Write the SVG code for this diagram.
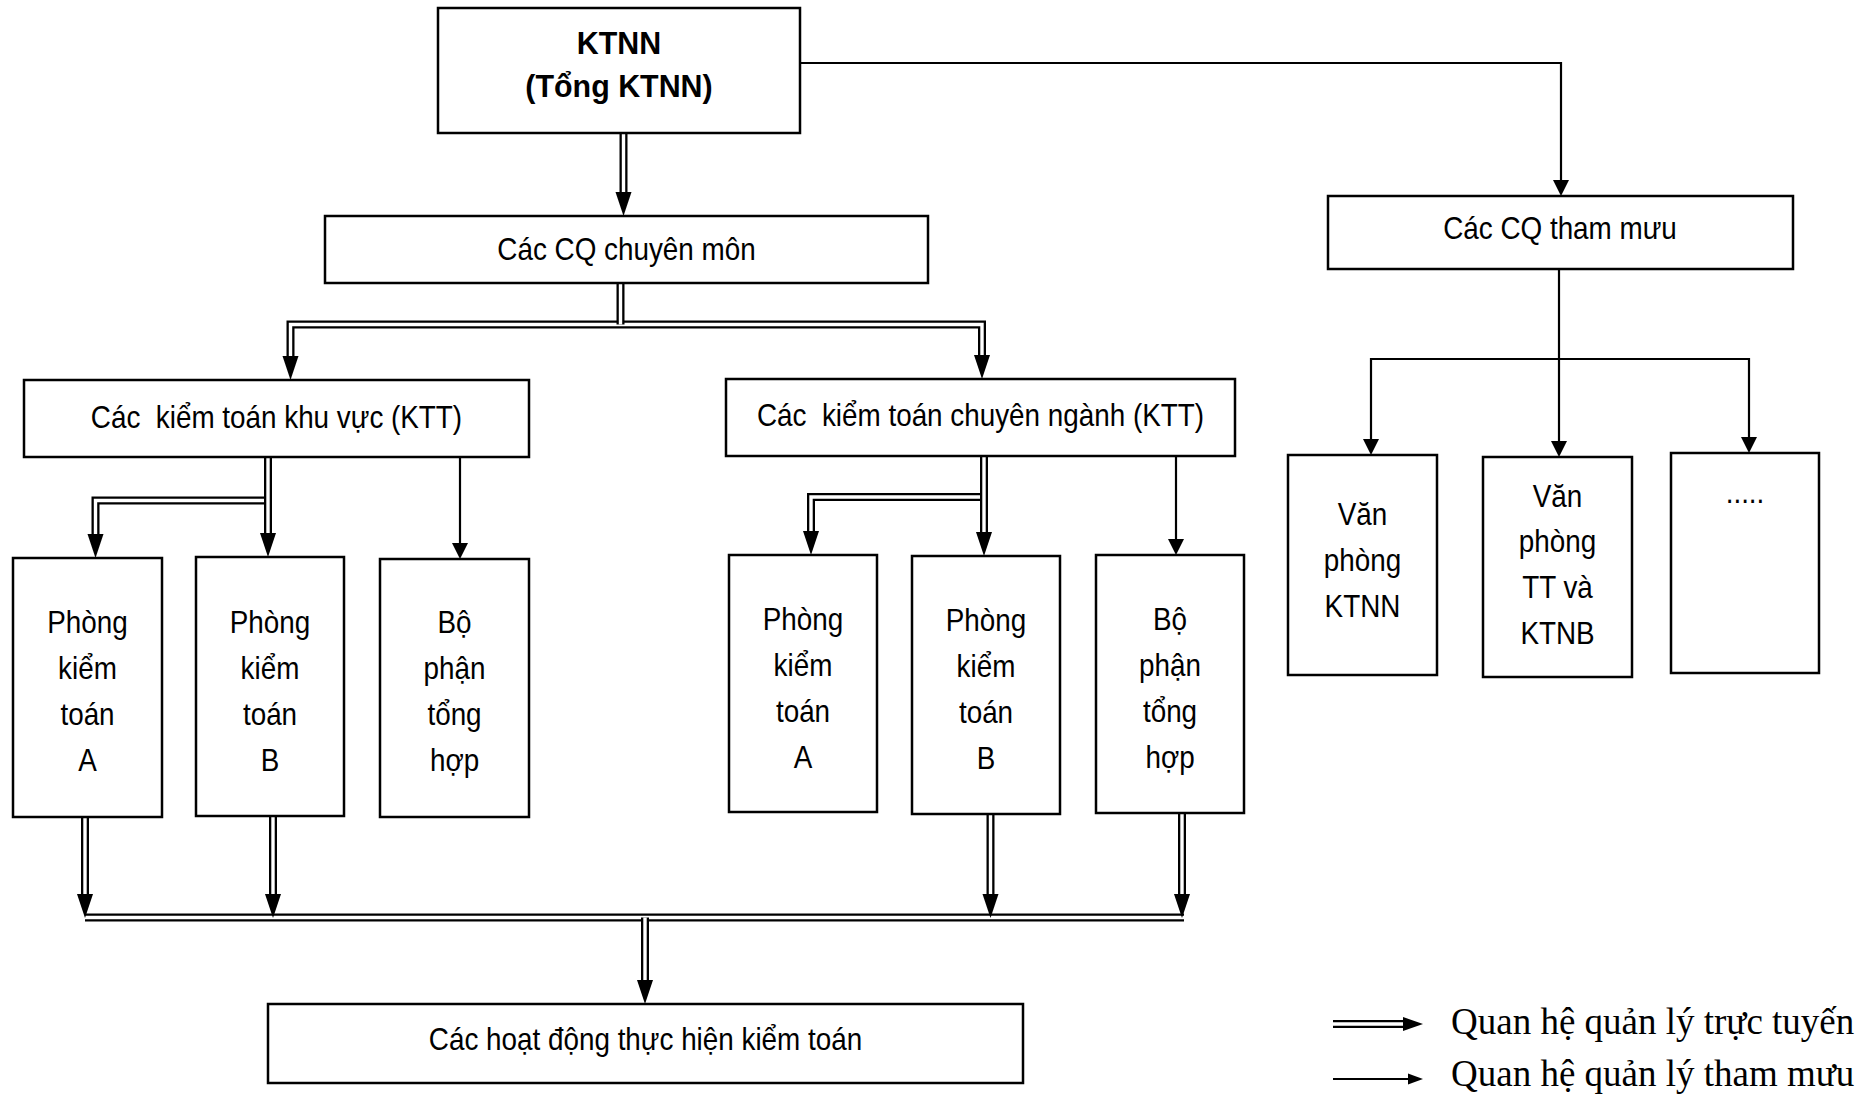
<svg xmlns="http://www.w3.org/2000/svg" width="1876" height="1097" viewBox="0 0 1876 1097">
<style>
.box{fill:#fff;stroke:#000;stroke-width:2.5}
.t{font-family:"Liberation Sans",Arial,sans-serif;font-size:32px;text-anchor:middle;fill:#000}
.tb{font-family:"Liberation Sans",Arial,sans-serif;font-size:32px;font-weight:bold;text-anchor:middle;fill:#000}
.lg{font-family:"Liberation Serif","Times New Roman",serif;font-size:37px;fill:#000}
.s{fill:none;stroke:#000;stroke-width:2.2}
.do{fill:none;stroke:#000;stroke-width:8}
.di{fill:none;stroke:#fff;stroke-width:3.4}
.ah{fill:#000}
</style>
<defs>
<path id="hd" d="M-8,-24 L8,-24 L0,0 Z"/>
<path id="hs" d="M-8,-16 L8,-16 L0,0 Z"/>
</defs>
<rect width="1876" height="1097" fill="#fff"/>

<g id="connectors">
  <!-- single (advisory) lines -->
  <path class="s" d="M800,63 H1561 V182"/>
  <use href="#hs" class="ah" x="1561" y="196"/>
  <path class="s" d="M1559,269 V443"/>
  <use href="#hs" class="ah" x="1559" y="457"/>
  <path class="s" d="M1371,441 V359 H1749 V439"/>
  <use href="#hs" class="ah" x="1371" y="455"/>
  <use href="#hs" class="ah" x="1749" y="453"/>
  <path class="s" d="M460,457 V545"/>
  <use href="#hs" class="ah" x="460" y="559"/>
  <path class="s" d="M1176,456 V541"/>
  <use href="#hs" class="ah" x="1176" y="555"/>

  <!-- double (direct management) lines -->
  <path class="do" d="M623.5,133 V194"/><path class="di" d="M623.5,133 V194"/>
  <use href="#hd" class="ah" x="623.5" y="216"/>

  <path class="do" d="M290.5,358 V324.5 H982 V357"/><path class="di" d="M290.5,358 V324.5 H982 V357"/>
  <path class="do" d="M620.5,283 V324.5"/><path class="di" d="M620.5,283 V324.5"/>
  <use href="#hd" class="ah" x="290.5" y="380"/>
  <use href="#hd" class="ah" x="982" y="379"/>

  <path class="do" d="M95.5,536 V500.5 H268"/><path class="di" d="M95.5,536 V500.5 H268"/>
  <path class="do" d="M268,457 V535"/><path class="di" d="M268,457 V535"/>
  <use href="#hd" class="ah" x="95.5" y="558"/>
  <use href="#hd" class="ah" x="268" y="557"/>

  <path class="do" d="M811,533 V497 H984"/><path class="di" d="M811,533 V497 H984"/>
  <path class="do" d="M984,456 V534"/><path class="di" d="M984,456 V534"/>
  <use href="#hd" class="ah" x="811" y="555"/>
  <use href="#hd" class="ah" x="984" y="556"/>

  <path class="do" d="M85,917.5 H1184"/><path class="di" d="M85,917.5 H1184"/>
  <path class="do" d="M645,917.5 V982"/><path class="di" d="M645,917.5 V982"/>
  <use href="#hd" class="ah" x="645" y="1004"/>

  <path class="do" d="M85,817 V896"/><path class="di" d="M85,817 V896"/>
  <path class="do" d="M273,816 V896"/><path class="di" d="M273,816 V896"/>
  <path class="do" d="M990.5,814 V896"/><path class="di" d="M990.5,814 V896"/>
  <path class="do" d="M1182,813 V896"/><path class="di" d="M1182,813 V896"/>
  <use href="#hd" class="ah" x="85" y="918"/>
  <use href="#hd" class="ah" x="273" y="918"/>
  <use href="#hd" class="ah" x="990.5" y="918"/>
  <use href="#hd" class="ah" x="1182" y="918"/>
</g>

<g id="ktnn">
  <rect class="box" x="438" y="8" width="362" height="125"/>
  <g transform="translate(619 0) scale(0.95 1)">
    <text class="tb" x="0" y="54">KTNN</text>
    <text class="tb" x="0" y="97">(Tổng KTNN)</text>
  </g>
</g>

<g id="cq-chuyen-mon">
  <rect class="box" x="325" y="216" width="603" height="67"/>
  <text class="t" transform="translate(626.5 0) scale(0.87 1)" x="0" y="260">Các CQ chuyên môn</text>
</g>

<g id="cq-tham-muu">
  <rect class="box" x="1328" y="196" width="465" height="73"/>
  <text class="t" transform="translate(1560 0) scale(0.87 1)" x="0" y="239">Các CQ tham mưu</text>
</g>

<g id="ktt-khu-vuc">
  <rect class="box" x="24" y="380" width="505" height="77"/>
  <text class="t" transform="translate(276.5 0) scale(0.87 1)" x="0" y="428" xml:space="preserve" style="white-space:pre">Các  kiểm toán khu vực (KTT)</text>
</g>

<g id="ktt-chuyen-nganh">
  <rect class="box" x="726" y="379" width="509" height="77"/>
  <text class="t" transform="translate(980.5 0) scale(0.87 1)" x="0" y="426" xml:space="preserve" style="white-space:pre">Các  kiểm toán chuyên ngành (KTT)</text>
</g>

<g id="kv-phong-a">
  <rect class="box" x="13" y="558" width="149" height="259"/>
  <g transform="translate(87.5 0) scale(0.87 1)">
    <text class="t" x="0" y="633">Phòng</text>
    <text class="t" x="0" y="679">kiểm</text>
    <text class="t" x="0" y="725">toán</text>
    <text class="t" x="0" y="771">A</text>
  </g>
</g>

<g id="kv-phong-b">
  <rect class="box" x="196" y="557" width="148" height="259"/>
  <g transform="translate(270 0) scale(0.87 1)">
    <text class="t" x="0" y="633">Phòng</text>
    <text class="t" x="0" y="679">kiểm</text>
    <text class="t" x="0" y="725">toán</text>
    <text class="t" x="0" y="771">B</text>
  </g>
</g>

<g id="kv-bo-phan">
  <rect class="box" x="380" y="559" width="149" height="258"/>
  <g transform="translate(454.5 0) scale(0.87 1)">
    <text class="t" x="0" y="633">Bộ</text>
    <text class="t" x="0" y="679">phận</text>
    <text class="t" x="0" y="725">tổng</text>
    <text class="t" x="0" y="771">hợp</text>
  </g>
</g>

<g id="cn-phong-a">
  <rect class="box" x="729" y="555" width="148" height="257"/>
  <g transform="translate(803 0) scale(0.87 1)">
    <text class="t" x="0" y="630">Phòng</text>
    <text class="t" x="0" y="676">kiểm</text>
    <text class="t" x="0" y="722">toán</text>
    <text class="t" x="0" y="768">A</text>
  </g>
</g>

<g id="cn-phong-b">
  <rect class="box" x="912" y="556" width="148" height="258"/>
  <g transform="translate(986 0) scale(0.87 1)">
    <text class="t" x="0" y="631">Phòng</text>
    <text class="t" x="0" y="677">kiểm</text>
    <text class="t" x="0" y="723">toán</text>
    <text class="t" x="0" y="769">B</text>
  </g>
</g>

<g id="cn-bo-phan">
  <rect class="box" x="1096" y="555" width="148" height="258"/>
  <g transform="translate(1170 0) scale(0.87 1)">
    <text class="t" x="0" y="630">Bộ</text>
    <text class="t" x="0" y="676">phận</text>
    <text class="t" x="0" y="722">tổng</text>
    <text class="t" x="0" y="768">hợp</text>
  </g>
</g>

<g id="van-phong-ktnn">
  <rect class="box" x="1288" y="455" width="149" height="220"/>
  <g transform="translate(1362.5 0) scale(0.87 1)">
    <text class="t" x="0" y="525">Văn</text>
    <text class="t" x="0" y="571">phòng</text>
    <text class="t" x="0" y="617">KTNN</text>
  </g>
</g>

<g id="van-phong-tt-ktnb">
  <rect class="box" x="1483" y="457" width="149" height="220"/>
  <g transform="translate(1557.5 0) scale(0.87 1)">
    <text class="t" x="0" y="507">Văn</text>
    <text class="t" x="0" y="552">phòng</text>
    <text class="t" x="0" y="598">TT và</text>
    <text class="t" x="0" y="644">KTNB</text>
  </g>
</g>

<g id="khac">
  <rect class="box" x="1671" y="453" width="148" height="220"/>
  <text class="t" transform="translate(1745 0) scale(0.87 1)" x="0" y="503">.....</text>
</g>

<g id="hoat-dong">
  <rect class="box" x="268" y="1004" width="755" height="79"/>
  <text class="t" transform="translate(645.5 0) scale(0.87 1)" x="0" y="1050">Các hoạt động thực hiện kiểm toán</text>
</g>

<g id="legend">
  <path class="do" d="M1333,1024 H1405"/><path class="di" d="M1333,1024 H1405"/>
  <path class="ah" d="M1403,1017 L1423,1024 L1403,1031 Z"/>
  <text class="lg" x="1451" y="1034">Quan hệ quản lý trực tuyến</text>
  <path class="s" d="M1333,1079 H1410"/>
  <path class="ah" d="M1408,1073.5 L1423,1079 L1408,1084.5 Z"/>
  <text class="lg" x="1451" y="1086">Quan hệ quản lý tham mưu</text>
</g>
</svg>
